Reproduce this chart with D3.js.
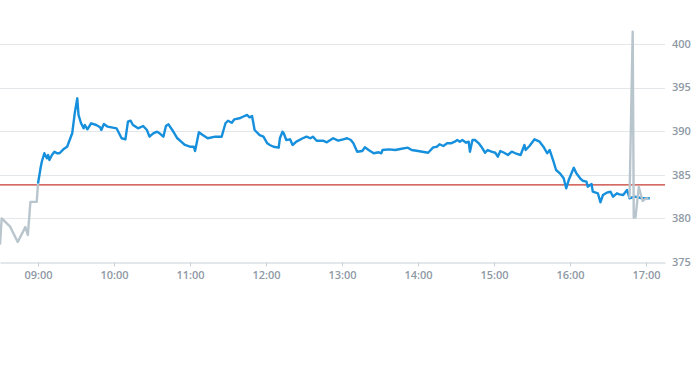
<!DOCTYPE html>
<html>
<head>
<meta charset="utf-8">
<script src="https://cdn.jsdelivr.net/npm/d3@7"></script>
<style>
  body { margin: 0; background: #fff; }
  text { font-family: "Open Sans", sans-serif; }
</style>
</head>
<body>
<div id="chart"></div>
<script>
// intraday price, pre-market (grey), main session (blue), late trades (grey)
var preTimes = ["08:30", "08:31:20", "08:38", "08:44", "08:50", "08:52", "08:54", "08:59", "09:00"];
var preValues = [377.0, 380.0, 379.05, 377.3, 379.0, 378.1, 381.9, 381.9, 384.0];

var mainTimes = [
  "09:00", "09:02", "09:03", "09:05", "09:07", "09:08", "09:09", "09:11", "09:13", "09:15",
  "09:17", "09:20", "09:23", "09:25", "09:27", "09:29", "09:31", "09:32", "09:34", "09:36",
  "09:37", "09:39", "09:42", "09:46", "09:49", "09:50", "09:52", "09:55", "10:02", "10:06",
  "10:09", "10:11", "10:13", "10:15", "10:19", "10:23", "10:26", "10:28", "10:31", "10:34",
  "10:36", "10:39", "10:41", "10:43", "10:46", "10:50", "10:53", "10:56", "11:00", "11:03",
  "11:04", "11:07", "11:10", "11:14", "11:20", "11:25", "11:28", "11:30", "11:33", "11:35",
  "11:39", "11:43", "11:45", "11:47", "11:49", "11:51", "11:55", "11:58", "12:01", "12:03",
  "12:06", "12:10", "12:11", "12:13", "12:14", "12:16", "12:19", "12:21", "12:24", "12:29",
  "12:32", "12:35", "12:37", "12:40", "12:45", "12:48", "12:53", "12:57", "13:01", "13:04",
  "13:07", "13:09", "13:12", "13:16", "13:18", "13:21", "13:25", "13:29", "13:31", "13:32",
  "13:37", "13:42", "13:47", "13:52", "13:55", "14:00", "14:08", "14:12", "14:15", "14:17",
  "14:20", "14:23", "14:26", "14:29", "14:31", "14:33", "14:35", "14:38", "14:40", "14:41",
  "14:43", "14:45", "14:48", "14:50", "14:53", "14:55", "14:58", "15:01", "15:03", "15:05",
  "15:08", "15:11", "15:14", "15:17", "15:21", "15:24", "15:25", "15:28", "15:32", "15:36",
  "15:39", "15:42", "15:44", "15:47", "15:49", "15:52", "15:55", "15:57", "15:59", "16:03",
  "16:05", "16:08", "16:10", "16:13", "16:14", "16:17", "16:18", "16:22", "16:24", "16:26",
  "16:29", "16:32", "16:34", "16:37", "16:39", "16:42", "16:45", "16:47", "16:51", "16:57",
  "17:03"
];
var mainValues = [
  384.0, 385.75, 386.5, 387.47, 386.89, 387.27, 386.7, 387.27, 387.65, 387.47,
  387.47, 387.92, 388.22, 388.99, 389.76, 392.05, 393.77, 391.86, 390.91, 390.33,
  390.71, 390.22, 390.91, 390.71, 390.45, 390.14, 390.83, 390.52, 390.33, 389.19,
  389.07, 391.09, 391.2, 390.71, 390.33, 390.6, 390.14, 389.37, 389.76, 389.94,
  389.76, 389.37, 390.6, 390.79, 390.14, 389.19, 388.8, 388.42, 388.22, 388.22,
  387.73, 389.87, 389.56, 389.19, 389.37, 389.37, 390.91, 391.2, 390.97, 391.36,
  391.48, 391.74, 391.86, 391.59, 391.74, 390.14, 389.56, 389.37, 388.61, 388.42,
  388.22, 388.11, 389.19, 389.94, 389.76, 388.99, 389.07, 388.42, 388.8, 389.19,
  389.37, 389.19, 389.37, 388.91, 388.91, 388.73, 389.19, 388.91, 389.07, 389.19,
  388.99, 388.61, 387.65, 387.73, 388.15, 387.84, 387.47, 387.58, 387.47, 387.84,
  387.92, 387.84, 387.99, 388.11, 387.84, 387.73, 387.53, 388.15, 388.22, 388.5,
  388.3, 388.61, 388.61, 388.8, 388.99, 388.8, 388.99, 388.68, 388.8, 387.65,
  388.99, 388.99, 388.61, 388.22, 387.53, 387.84, 387.65, 387.53, 387.08, 387.73,
  387.53, 387.27, 387.65, 387.47, 387.27, 388.42, 387.84, 388.3, 389.07, 388.8,
  388.22, 387.47, 387.84, 386.5, 385.55, 385.17, 384.6, 383.45, 384.4, 385.81,
  385.17, 384.6, 384.32, 384.21, 383.64, 383.94, 383.06, 382.88, 381.85, 382.68,
  382.95, 383.06, 382.49, 382.88, 382.76, 382.68, 383.26, 382.31, 382.49, 382.31,
  382.31
];

var postTimes = ["16:47", "16:49:30", "16:50:20", "16:51:40", "16:54:20", "16:57:20", "17:00", "17:02"];
var postValues = [382.3, 401.4, 380.1, 380.1, 383.6, 382.0, 382.3, 382.3];

var refValue = 383.85;
var yTicks = [375, 380, 385, 390, 395, 400];
var xTickLabels = ["09:00", "10:00", "11:00", "12:00", "13:00", "14:00", "15:00", "16:00", "17:00"];

var W = 695, H = 370;
var plotW = 665, plotTop = 44, plotBottom = 262;

function parseT(s) {
  var p = s.split(':').map(Number);
  return new Date(2024, 0, 15, p[0], p[1], p[2] || 0);
}

var svg = d3.select('#chart').append('svg')
    .attr('width', W)
    .attr('height', H);

var x = d3.scaleTime()
    .domain([parseT("08:30"), parseT("17:15")])
    .range([0, plotW]);

var y = d3.scaleLinear()
    .domain([375, 400])
    .range([plotBottom, plotTop]);

// horizontal grid + right labels
svg.append('g')
    .selectAll('line')
    .data(yTicks.slice(1))
    .enter()
    .append('line')
      .attr('x1', 0)
      .attr('x2', plotW)
      .attr('y1', d => Math.round(y(d)) + 0.5)
      .attr('y2', d => Math.round(y(d)) + 0.5)
      .attr('stroke', '#e4e7ea')
      .attr('stroke-width', 1);

svg.append('g')
    .selectAll('text')
    .data(yTicks)
    .enter()
    .append('text')
      .attr('x', 672)
      .attr('y', d => y(d))
      .attr('dy', '0.35em')
      .attr('font-size', 11)
      .attr('font-weight', 600)
      .attr('fill', '#8e99a5')
      .text(d => d);

// bottom axis
var xAxis = svg.append('g')
    .attr('transform', 'translate(0,' + (plotBottom + 0.5) + ')')
    .call(d3.axisBottom(x)
        .tickValues(xTickLabels.map(parseT))
        .tickFormat(d3.timeFormat('%H:%M'))
        .tickSize(4)
        .tickSizeOuter(0));
xAxis.select('.domain').attr('stroke', '#c9d0d6');
xAxis.selectAll('.tick line').attr('stroke', '#c9d0d6');
xAxis.selectAll('.tick text')
    .attr('y', 9)
    .attr('font-family', '"Open Sans", sans-serif')
    .attr('font-size', 11)
    .attr('font-weight', 600)
    .attr('fill', '#8e99a5');

// previous close reference
svg.append('line')
    .attr('x1', 0)
    .attr('x2', plotW)
    .attr('y1', y(refValue))
    .attr('y2', y(refValue))
    .attr('stroke', '#c43a30')
    .attr('stroke-width', 1.3);

// clip to plot
svg.append('clipPath').attr('id', 'clip')
  .append('rect').attr('x', 0).attr('y', 0).attr('width', plotW).attr('height', H);

var line = d3.line()
    .x(d => x(d.t))
    .y(d => y(d.v));

function zip(ts, vs) {
  return ts.map((t, i) => ({ t: parseT(t), v: vs[i] }));
}

var plot = svg.append('g').attr('clip-path', 'url(#clip)');

plot.append('path')
    .datum(zip(preTimes, preValues))
    .attr('d', line)
    .attr('fill', 'none')
    .attr('stroke', '#b9c5cd')
    .attr('stroke-width', 2.4)
    .attr('stroke-linejoin', 'round');

plot.append('path')
    .datum(zip(mainTimes, mainValues))
    .attr('d', line)
    .attr('fill', 'none')
    .attr('stroke', '#168fdc')
    .attr('stroke-width', 2.4)
    .attr('stroke-linejoin', 'round');

plot.append('path')
    .datum(zip(postTimes, postValues))
    .attr('d', line)
    .attr('fill', 'none')
    .attr('stroke', '#b9c5cd')
    .attr('stroke-width', 2.4)
    .attr('stroke-linejoin', 'round');
</script>
</body>
</html>
